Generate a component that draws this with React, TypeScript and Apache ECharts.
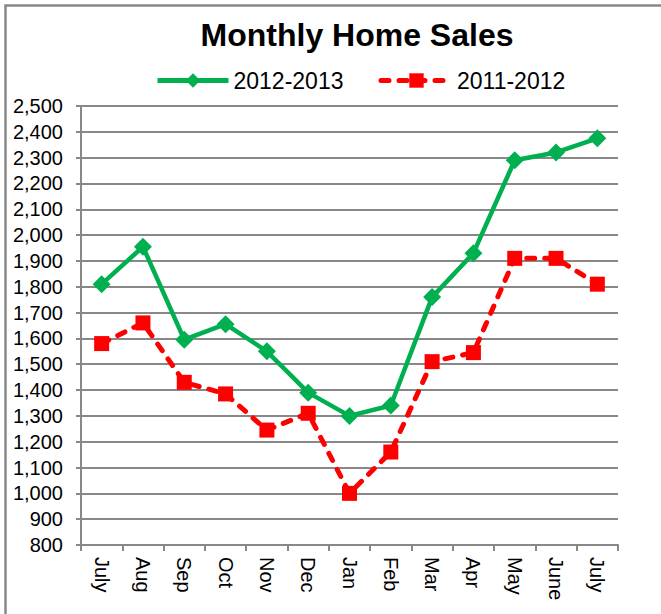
import React, { useEffect, useRef } from "react";
import * as echarts from "echarts";

const categories = ["July", "Aug", "Sep", "Oct", "Nov", "Dec", "Jan", "Feb", "Mar", "Apr", "May", "June", "July"];
const sales20122013 = [1810, 1955, 1595, 1655, 1550, 1390, 1300, 1340, 1760, 1930, 2290, 2320, 2375];
const sales20112012 = [1580, 1660, 1430, 1385, 1245, 1310, 1000, 1160, 1510, 1545, 1910, 1910, 1810];
const yMin = 800;
const yMax = 2500;
const yInterval = 100;

const FONT = "'Liberation Sans', Arial, sans-serif";
const GRAY = "#888888";

export default function App() {
  const ref = useRef<HTMLDivElement>(null);

  useEffect(() => {
    if (!ref.current) return;
    const chart = echarts.init(ref.current, null, { renderer: "svg" });
    chart.setOption({
      animation: false,
      backgroundColor: "#ffffff",
      textStyle: { fontFamily: FONT },
      graphic: [
        {
          type: "rect",
          shape: { x: 5.5, y: 5.5, width: 1000, height: 1000 },
          style: { fill: "none", stroke: GRAY, lineWidth: 2.5 },
          silent: true,
          z: -10,
        },
      ],
      title: {
        text: "Monthly Home Sales",
        left: 357,
        top: 18.5,
        textAlign: "center",
        padding: 0,
        textStyle: { fontFamily: FONT, fontSize: 32, fontWeight: "bold", color: "#000" },
      },
      legend: {
        left: 155,
        top: 69,
        padding: 0,
        itemWidth: 71,
        itemHeight: 18,
        itemGap: 35,
        data: ["2012-2013", "2011-2012"],
        lineStyle: { width: 5 },
        textStyle: { fontFamily: FONT, fontSize: 23, color: "#000" },
      },
      grid: { left: 81, right: 43, top: 106, bottom: 69, containLabel: false },
      xAxis: {
        type: "category",
        data: categories,
        boundaryGap: true,
        axisLine: { lineStyle: { color: GRAY, width: 2 } },
        axisTick: { show: true, length: 6, lineStyle: { color: GRAY, width: 2 } },
        axisLabel: {
          rotate: -90,
          margin: 12,
          fontFamily: FONT,
          fontSize: 20,
          color: "#000",
          interval: 0,
        },
      },
      yAxis: {
        type: "value",
        min: yMin,
        max: yMax,
        interval: yInterval,
        axisLine: { show: true, lineStyle: { color: GRAY, width: 2 } },
        axisTick: { show: true, length: 5, lineStyle: { color: GRAY, width: 2 } },
        splitLine: { show: true, lineStyle: { color: GRAY, width: 2 } },
        axisLabel: {
          margin: 18,
          fontFamily: FONT,
          fontSize: 20,
          color: "#000",
          formatter: (v: number) => v.toLocaleString("en-US"),
        },
      },
      series: [
        {
          name: "2012-2013",
          type: "line",
          data: sales20122013,
          symbol: "diamond",
          symbolSize: 18,
          lineStyle: { color: "#00B050", width: 4.5 },
          itemStyle: { color: "#00B050" },
          z: 3,
        },
        {
          name: "2011-2012",
          type: "line",
          data: sales20112012,
          symbol: "rect",
          symbolSize: 15,
          lineStyle: { color: "#FF0000", width: 5, type: [8, 10], cap: "round" },
          itemStyle: { color: "#FF0000" },
          z: 2,
        },
      ],
    });
    return () => chart.dispose();
  }, []);

  return (
    <div
      ref={ref}
      style={{ position: "fixed", left: 0, top: 0, width: 661, height: 614 }}
    />
  );
}
